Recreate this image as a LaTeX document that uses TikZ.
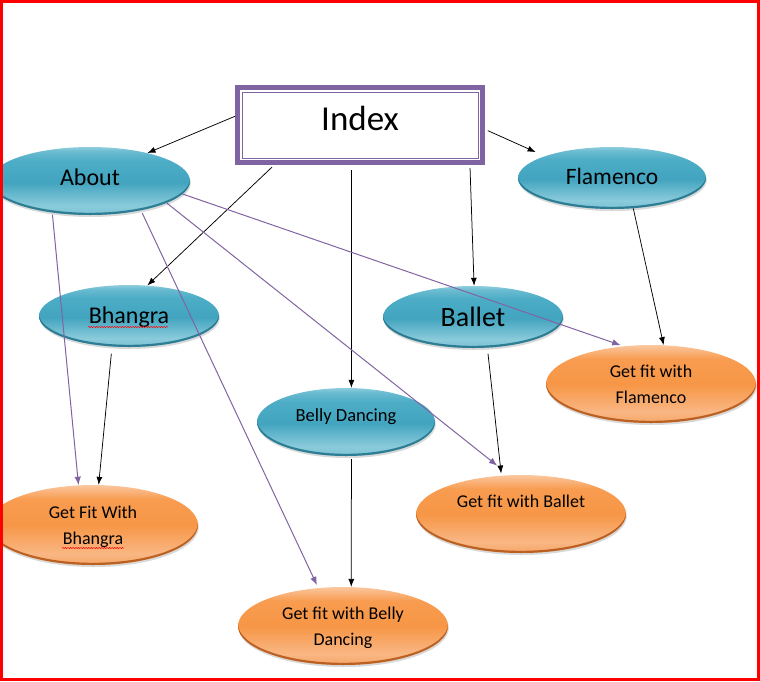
\documentclass[tikz,border=0pt]{standalone}
\usepackage{fontspec}
\setmainfont{Carlito}
\usetikzlibrary{arrows.meta,shapes.geometric,shadows,decorations.pathmorphing,calc}

\definecolor{idxpurple}{HTML}{8064A2}
\definecolor{frameRed}{HTML}{FF0000}
\definecolor{bRim}{HTML}{24758C}
\definecolor{bLow}{HTML}{7CC2D5}
\definecolor{bLowB}{HTML}{8ACBDB}
\definecolor{bMid}{HTML}{42A4BF}
\definecolor{bTop}{HTML}{4DADC7}
\definecolor{bTopB}{HTML}{6CBCD0}
\definecolor{bTopC}{HTML}{8ECDDD}
\definecolor{oRim}{HTML}{B4591A}
\definecolor{oLow}{HTML}{F6A566}
\definecolor{oLowB}{HTML}{F9B784}
\definecolor{oMid}{HTML}{F79646}
\definecolor{oTop}{HTML}{F89C50}
\definecolor{oTopB}{HTML}{FAB884}
\definecolor{oTopC}{HTML}{FBC8A0}

\pgfdeclareverticalshading{blueshade}{100bp}{color(0bp)=(bLow); color(25bp)=(bLow); color(32bp)=(bLowB); color(49bp)=(bMid); color(65bp)=(bTop); color(72bp)=(bTopB); color(75bp)=(bTopC); color(100bp)=(bTopC)}
\pgfdeclareverticalshading{orangeshade}{100bp}{color(0bp)=(oLow); color(25bp)=(oLow); color(32bp)=(oLowB); color(50bp)=(oMid); color(66bp)=(oTop); color(72bp)=(oTopB); color(75bp)=(oTopC); color(100bp)=(oTopC)}

\tikzset{
  ballbase/.style n args={3}{ellipse, inner sep=0pt, draw=none,
    minimum width=2*#1pt, minimum height=2*#2pt,
    drop shadow={shadow xshift=0.8pt, shadow yshift=-2pt, opacity=0.3},
    path picture={\fill[#3, opacity=0.9, even odd rule]
      ([xshift=-5pt,yshift=-5pt]path picture bounding box.south west) rectangle
      ([xshift=5pt,yshift=5pt]path picture bounding box.north east)
      ([yshift=2.2pt]path picture bounding box.center) ellipse [x radius=#1pt, y radius=#2pt];},
    text=black},
  blueball/.style 2 args={ballbase={#1}{#2}{bRim}, shade, shading=blueshade},
  orangeball/.style 2 args={ballbase={#1}{#2}{oRim}, shade, shading=orangeshade,
    align=center, font=\fontsize{18}{26}\selectfont, text depth=0pt},
  blk/.style={draw=black, line width=0.75pt, -{Latex[length=8pt,width=6pt]}},
  prp/.style={draw=idxpurple, line width=1pt, -{Latex[length=8.5pt,width=6.5pt]}},
  spell/.style={draw=frameRed, line width=0.5pt, decorate,
    decoration={snake, amplitude=0.6pt, segment length=2.6pt}}
}

\begin{document}
\begin{tikzpicture}[x=1pt, y=-1pt]
\useasboundingbox (0,0) rectangle (760,681);
\begin{scope}
\clip (2,2) rectangle (757,678);

% Index box
\node[draw=idxpurple, line width=5pt, fill=white, rectangle, inner sep=0pt,
      minimum width=245pt, minimum height=75pt,
      font=\fontsize{35}{40}\selectfont, text height=23pt, text depth=12pt]
      (index) at (360,125) {Index};
\draw[idxpurple, line width=1pt] ($(index.north west)+(7,7)$) rectangle ($(index.south east)+(-7,-7)$);

% blue ellipses
\node[blueball={100}{34},
      font=\fontsize{24}{28}\selectfont, text height=15.5pt, text depth=7pt]
      (about) at (90,181) {About};
\node[blueball={94}{31},
      font=\fontsize{23.5}{28}\selectfont, text height=15.5pt, text depth=2pt]
      (flam) at (612,178) {Flamenco};
\node[blueball={90}{31},
      font=\fontsize{24}{28}\selectfont, text height=15.5pt, text depth=0pt]
      (bhangra) at (129,316) {Bhangra};
\node[blueball={90}{31},
      font=\fontsize{28}{32}\selectfont, text height=18pt, text depth=0pt]
      (ballet) at (473,317) {Ballet};
\node[blueball={89}{34},
      font=\fontsize{18.5}{22}\selectfont, text height=12pt, text depth=13pt]
      (belly) at (346,422) {Belly Dancing};

% orange ellipses
\node[orangeball={105}{39}] (gfflam) at (651,384) {Get fit with\\Flamenco};
\node[orangeball={105}{39}] (gfballet) at (521,514) {Get fit with Ballet\\\mbox{}};
\node[orangeball={105}{40}] (gfbhangra) at (93,525) {Get Fit With\\Bhangra};
\node[orangeball={105}{39}] (gfbelly) at (343,626) {Get fit with Belly\\Dancing};

% spelling marks
\draw[spell] (88,327) -- (168,327);
\draw[spell] (62,548) -- (124,548);

% black connectors
\draw[blk] (index.176) -- (about.26.6);
\draw[blk, shorten <=3pt, shorten >=10pt] (index.-2.3) -- (flam.162);
\draw[blk, shorten <=3pt] (index.-155.3) -- (bhangra.59);
\draw[blk, shorten <=5pt] (index.-102.7) -- (belly.81.6);
\draw[blk, shorten <=3pt] (index.-20.15) -- (ballet.88);
\draw[blk] (flam.-55.2) -- (gfflam.72.8);
\draw[blk, shorten <=6pt, shorten >=2pt] (ballet.-65.4) -- (gfballet.117.6);
\draw[blk, shorten <=7pt] (bhangra.-119.2) -- (gfbhangra.82.9);
\draw[blk, shorten <=3pt] (belly.-81.6) -- (gfbelly.78.4);

% purple connectors
\draw[prp, shorten <=2pt] (about.-140.4) -- (gfbhangra.110.7);
\draw[prp, shorten <=3pt, shorten >=3pt] (about.-30.5) -- (gfbelly.123.4);
\draw[prp, shorten >=15pt] (about.-16.7) -- (gfballet.107.5);
\draw[prp, shorten >=3pt] (about.-8.2) -- (gfflam.126.7);
\end{scope}

% red frame
\draw[frameRed, line width=3pt] (1.5,1) rectangle (758.5,679.5);
\end{tikzpicture}
\end{document}
